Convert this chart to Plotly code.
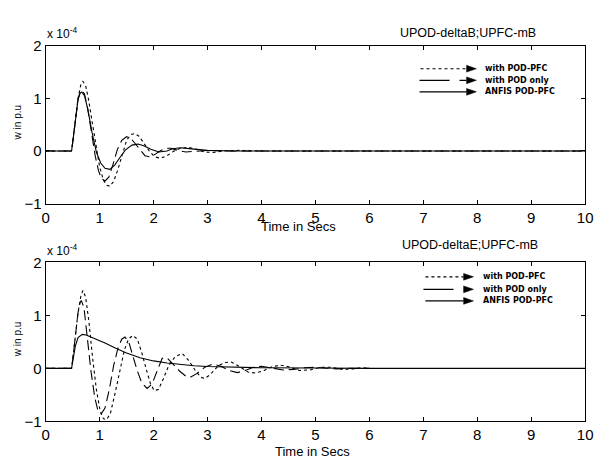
import plotly.graph_objects as go

W, H = 601, 464

# ---------------- data (values in units of 1e-4 p.u.) ----------------
t_top_podpfc = [0, 0.48, 0.5, 0.55, 0.6, 0.65, 0.69, 0.74, 0.8, 0.87, 0.94, 1.0, 1.07, 1.13, 1.19, 1.26, 1.34,
                1.42, 1.5, 1.58, 1.65, 1.73, 1.82, 1.92, 2.02, 2.13, 2.25, 2.38, 2.5, 2.65, 2.8, 2.95, 3.1, 3.3,
                3.6, 4.0, 10.0]
v_top_podpfc = [0, 0, 0.15, 0.6, 1.0, 1.25, 1.32, 1.25, 0.95, 0.5, 0.05, -0.3, -0.55, -0.65, -0.67, -0.58, -0.35,
                -0.05, 0.2, 0.31, 0.33, 0.28, 0.15, 0.0, -0.11, -0.14, -0.09, 0.0, 0.05, 0.07, 0.03, -0.02, -0.03,
                0.0, 0.01, 0, 0]

t_top_podonly = [0, 0.48, 0.5, 0.55, 0.6, 0.64, 0.67, 0.72, 0.78, 0.85, 0.92, 0.98, 1.04, 1.1, 1.17, 1.25, 1.33,
                 1.41, 1.5, 1.58, 1.67, 1.76, 1.84, 1.92, 2.02, 2.12, 2.22, 2.32, 2.45, 2.6, 2.8, 3.0, 3.3, 10.0]
v_top_podonly = [0, 0, 0.15, 0.6, 0.98, 1.12, 1.15, 1.08, 0.8, 0.35, -0.1, -0.38, -0.53, -0.57, -0.5, -0.25, 0.03,
                 0.2, 0.27, 0.24, 0.12, 0.0, -0.09, -0.11, -0.07, 0.0, 0.05, 0.05, 0.01, -0.02, 0.0, 0.01, 0, 0]

t_top_anfis = [0, 0.48, 0.5, 0.55, 0.6, 0.64, 0.67, 0.72, 0.78, 0.86, 0.94, 1.02, 1.1, 1.19, 1.28, 1.38, 1.48,
               1.6, 1.71, 1.82, 1.95, 2.1, 2.25, 2.35, 2.5, 2.7, 3.0, 3.5, 10.0]
v_top_anfis = [0, 0, 0.15, 0.6, 0.98, 1.1, 1.12, 1.05, 0.8, 0.35, -0.02, -0.23, -0.33, -0.35, -0.27, -0.12, 0.02,
               0.11, 0.13, 0.1, 0.03, -0.02, 0.0, 0.04, 0.06, 0.04, 0.01, 0, 0]

t_bot_podpfc = [0, 0.48, 0.5, 0.55, 0.6, 0.65, 0.69, 0.74, 0.8, 0.87, 0.94, 1.01, 1.07, 1.13, 1.2, 1.28, 1.37,
                1.46, 1.54, 1.62, 1.7, 1.78, 1.86, 1.94, 2.01, 2.09, 2.18, 2.28, 2.4, 2.53, 2.65, 2.78, 2.88, 2.95,
                3.05, 3.2, 3.32, 3.44, 3.6, 3.75, 3.89, 4.05, 4.2, 4.35, 4.5, 4.7, 4.9, 5.1, 5.3, 5.5, 5.7, 5.85, 6.0]
v_bot_podpfc = [0, 0, 0.15, 0.6, 1.05, 1.35, 1.47, 1.35, 0.9, 0.2, -0.4, -0.8, -0.95, -0.97, -0.85, -0.5, -0.05,
                0.35, 0.56, 0.62, 0.55, 0.3, 0.0, -0.28, -0.42, -0.4, -0.2, 0.05, 0.22, 0.28, 0.15, -0.05, -0.17,
                -0.19, -0.12, 0.05, 0.11, 0.12, 0.03, -0.07, -0.09, -0.04, 0.03, 0.06, 0.03, -0.04, -0.03, 0.02,
                0.02, -0.02, -0.01, 0.01, 0]

t_bot_podonly = [0, 0.48, 0.5, 0.55, 0.6, 0.64, 0.66, 0.71, 0.77, 0.84, 0.91, 0.97, 1.03, 1.1, 1.18, 1.26, 1.34,
                 1.41, 1.47, 1.54, 1.62, 1.7, 1.78, 1.88, 1.97, 2.06, 2.16, 2.25, 2.35, 2.48, 2.6, 2.68, 2.8, 2.95,
                 3.1, 3.25, 3.4, 3.55, 3.7, 3.85, 4.0, 4.2, 4.4, 4.6, 4.8, 5.0, 5.2, 5.4, 5.6, 6.0]
v_bot_podonly = [0, 0, 0.15, 0.6, 1.05, 1.25, 1.28, 1.15, 0.6, -0.05, -0.55, -0.8, -0.86, -0.75, -0.4, 0.05, 0.38,
                 0.55, 0.59, 0.5, 0.22, -0.05, -0.27, -0.38, -0.3, -0.05, 0.19, 0.2, 0.1, -0.05, -0.15, -0.17,
                 -0.1, 0.02, 0.08, 0.04, -0.04, -0.08, -0.04, 0.02, 0.04, 0.01, -0.03, -0.02, 0.01, 0.02, 0.0,
                 -0.01, 0, 0]

t_bot_anfis = [0, 0.48, 0.5, 0.55, 0.6, 0.68, 0.75, 0.9, 1.1, 1.3, 1.5, 1.75, 2.0, 2.25, 2.5, 2.75, 3.0, 3.5,
               4.0, 5.0, 6.0, 10.0]
v_bot_anfis = [0, 0, 0.12, 0.42, 0.58, 0.64, 0.63, 0.57, 0.48, 0.38, 0.29, 0.2, 0.14, 0.1, 0.07, 0.05, 0.035,
               0.02, 0.01, 0.005, 0, 0]

x_ticks = [0, 1, 2, 3, 4, 5, 6, 7, 8, 9, 10]
y_ticks = [-1, 0, 1, 2]
legend_names = ["with POD-PFC", "with POD only", "ANFIS POD-PFC"]
titles = ["UPOD-deltaB;UPFC-mB", "UPOD-deltaE;UPFC-mB"]
x_title = "Time in Secs"
y_title = "w in p.u"

# ---------------- figure ----------------
FONT = "Liberation Sans, Arial, sans-serif"
dash_styles = ["3px,3px", "10px,5px", "solid"]

fig = go.Figure()
series = [
    ("x", "y", [(t_top_anfis, v_top_anfis, 2), (t_top_podonly, v_top_podonly, 1), (t_top_podpfc, v_top_podpfc, 0)]),
    ("x2", "y2", [(t_bot_anfis, v_bot_anfis, 2), (t_bot_podonly, v_bot_podonly, 1), (t_bot_podpfc, v_bot_podpfc, 0)]),
]
for xa, ya, lst in series:
    for tt, vv, k in lst:
        fig.add_trace(go.Scatter(x=tt, y=vv, mode="lines", xaxis=xa, yaxis=ya, showlegend=False,
                                 name=legend_names[k],
                                 line=dict(color="black", width=1.1, dash=dash_styles[k])))


def px(x):
    return x / W


def py(y):
    return 1 - y / H


xdom = [px(42.5), px(593)]
axis_common = dict(showline=True, linecolor="black", linewidth=1, mirror="ticks", ticks="inside",
                   ticklen=4, tickcolor="black", showgrid=False, zeroline=False,
                   ticklabeloverflow="allow",
                   tickfont=dict(family=FONT, size=15, color="black"))
fig.update_layout(
    width=W, height=H, margin=dict(l=0, r=0, t=0, b=0),
    paper_bgcolor="white", plot_bgcolor="white",
    xaxis=dict(domain=xdom, range=[0, 10], tickvals=x_ticks, anchor="y", **axis_common),
    yaxis=dict(domain=[py(202), py(38)], range=[-1, 2], tickvals=y_ticks, anchor="x", **axis_common),
    xaxis2=dict(domain=xdom, range=[0, 10], tickvals=x_ticks, anchor="y2", **axis_common),
    yaxis2=dict(domain=[py(428), py(263)], range=[-1, 2], tickvals=y_ticks, anchor="x2", **axis_common),
)

ann = []
shapes = []


def text(x, y, s, size, xanchor="center", angle=0, family=FONT):
    ann.append(dict(x=px(x), y=py(y), xref="paper", yref="paper", text=s, showarrow=False,
                    xanchor=xanchor, yanchor="middle", textangle=angle,
                    font=dict(family=family, size=size, color="black")))


# panel texts
for i, (ytop, ymid, ytime, xtime, ytitle, xtitle) in enumerate(
        [(38, 118, 226, 301, 25, 473), (263, 343, 459, 315, 245, 476)]):
    text(42, ytop - 13, "x 10<sup>-4</sup>", 12, xanchor="left")
    text(14, ymid, y_title, 10, angle=-90)
    text(xtime, ytime, x_title, 13)
    text(xtitle, ytitle, titles[i], 12.5)

# custom legends
legend_rows = [
    [(62, 425, 472), (74, 424, 472), (86, 424, 472)],
    [(278, 430, 469), (291, 428, 469), (303, 430, 469)],
]
text_x = [489, 487]
for p, rows in enumerate(legend_rows):
    for k, (yy, x0, x1) in enumerate(rows):
        shapes.append(dict(type="line", xref="paper", yref="paper", x0=px(x0), x1=px(x1), y0=py(yy), y1=py(yy),
                           line=dict(color="black", width=1.2,
                                     dash=["3px,3px", "30px,10px", "solid"][k])))
        shapes.append(dict(type="path", xref="paper", yref="paper",
                           path=f"M {px(x1)},{py(yy - 3.5)} L {px(x1 + 10)},{py(yy)} L {px(x1)},{py(yy + 3.5)} Z",
                           fillcolor="black", line=dict(color="black", width=0.5)))
        text(text_x[p], yy, f"<b>{legend_names[k]}</b>", 8, xanchor="left",
             family="DejaVu Sans, Liberation Sans, sans-serif")

fig.update_layout(annotations=ann, shapes=shapes)
fig.write_html("out.html")
